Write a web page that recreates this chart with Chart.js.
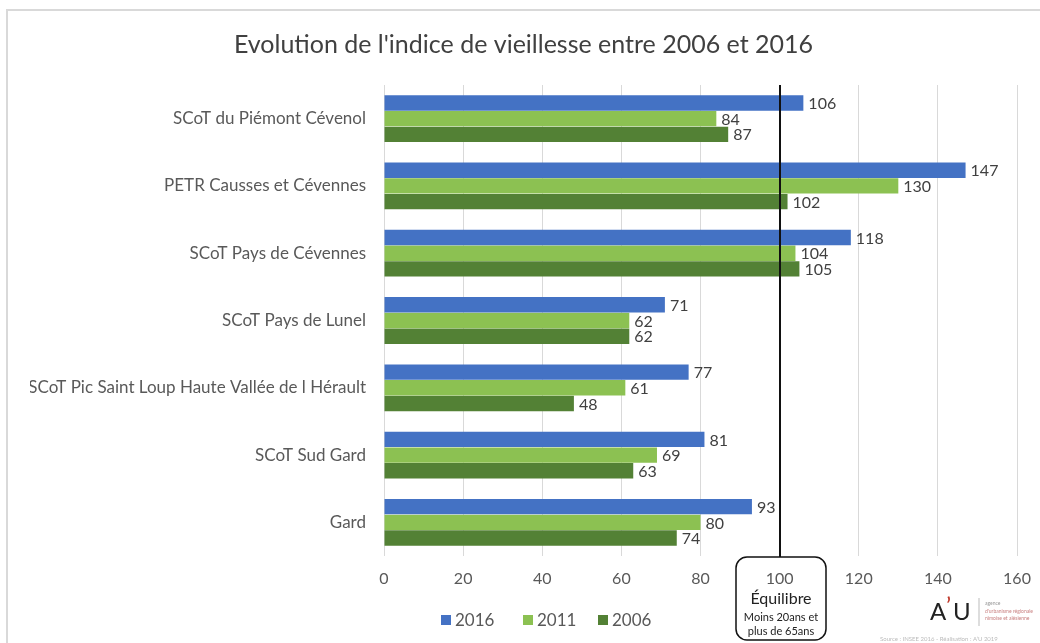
<!DOCTYPE html>
<html>
<head>
<meta charset="utf-8">
<script src="https://cdn.jsdelivr.net/npm/chart.js@4/dist/chart.umd.min.js"></script>
<style>
  html, body { margin: 0; padding: 0; background: #fff; }
  #wrap { width: 1040px; height: 643px; position: relative; }
</style>
</head>
<body>
<div id="wrap"><canvas id="c" width="1040" height="643"></canvas></div>
<script>
// data
const categories = [
  'SCoT du Piémont Cévenol',
  'PETR Causses et Cévennes',
  'SCoT Pays de Cévennes',
  'SCoT Pays de Lunel',
  'SCoT Pic Saint Loup Haute Vallée de l Hérault',
  'SCoT Sud Gard',
  'Gard'
];
const values2016 = [106, 147, 118, 71, 77, 81, 93];
const values2011 = [84, 130, 104, 62, 61, 69, 80];
const values2006 = [87, 102, 105, 62, 48, 63, 74];
const xTicks = [0, 20, 40, 60, 80, 100, 120, 140, 160];

const FONT = 'Lato, "Open Sans", sans-serif';
const colors = ['#4472C4', '#8CC152', '#538135'];

// draws value labels, the 100 line, the box, legend, logo, frame
const extras = {
  id: 'extras',
  beforeDraw(chart) {
    const c = chart.ctx;
    c.save();
    c.fillStyle = '#fff';
    c.fillRect(0, 0, chart.width, chart.height);
    c.strokeStyle = '#d9d9d9';
    c.lineWidth = 2;
    c.beginPath();
    c.moveTo(7, 643);
    c.lineTo(7, 10);
    c.lineTo(1040, 10);
    c.stroke();
    c.restore();
  },
  afterDatasetsDraw(chart) {
    const c = chart.ctx;
    const x = chart.scales.x;
    const area = chart.chartArea;
    c.save();
    // value labels
    c.font = '16px ' + FONT;
    c.fillStyle = '#404040';
    c.textBaseline = 'middle';
    c.textAlign = 'left';
    chart.data.datasets.forEach((ds, i) => {
      chart.getDatasetMeta(i).data.forEach((bar, j) => {
        c.fillText(String(ds.data[j]), bar.x + 5, bar.y + 1);
      });
    });
    // equilibrium line
    const x100 = Math.round(x.getPixelForValue(100));
    c.strokeStyle = '#111';
    c.lineWidth = 2;
    c.beginPath();
    c.moveTo(x100, area.top);
    c.lineTo(x100, 557);
    c.stroke();
    // rounded box
    const bx = x100 - 44, by = 557, bw = 90, bh = 83, r = 11;
    c.lineWidth = 1.5;
    c.beginPath();
    c.roundRect(bx, by, bw, bh, r);
    c.stroke();
    c.textAlign = 'center';
    c.fillStyle = '#222';
    c.font = '16px ' + FONT;
    c.fillText('Équilibre', x100 + 1, 599);
    c.font = '11px ' + FONT;
    c.fillText('Moins 20ans et', x100 + 1, 617);
    c.fillText('plus de 65ans', x100 + 1, 631);
    // legend
    const labels = ['2016', '2011', '2006'];
    const lx = [441, 523, 598];
    c.font = '17px ' + FONT;
    c.textAlign = 'left';
    labels.forEach((t, i) => {
      c.fillStyle = colors[i];
      c.fillRect(lx[i], 615, 10, 10);
      c.fillStyle = '#595959';
      c.fillText(t, lx[i] + 14, 621);
    });
    // logo
    c.fillStyle = '#222';
    c.font = '24px ' + FONT;
    c.fillText('A', 930, 612);
    c.fillStyle = '#c0392b';
    c.fillText('\u2019', 946, 606);
    c.fillStyle = '#222';
    c.fillText('U', 953, 612);
    c.strokeStyle = '#bbb';
    c.lineWidth = 1;
    c.beginPath();
    c.moveTo(979, 598);
    c.lineTo(979, 626);
    c.stroke();
    c.font = '5px ' + FONT;
    c.fillStyle = '#999';
    c.fillText('agence', 985, 603);
    c.fillStyle = '#c98080';
    c.fillText("d'urbanisme régionale", 985, 611);
    c.fillText('nîmoise et alésienne', 985, 618);
    c.fillStyle = '#bbb';
    c.font = '6px ' + FONT;
    c.fillText('Source : INSEE 2016 - Réalisation : A\u2019U 2019', 880, 639);
    c.restore();
  }
};

new Chart(document.getElementById('c'), {
  type: 'bar',
  data: {
    labels: categories,
    datasets: [
      { label: '2016', data: values2016, backgroundColor: colors[0] },
      { label: '2011', data: values2011, backgroundColor: colors[1] },
      { label: '2006', data: values2006, backgroundColor: colors[2] }
    ]
  },
  options: {
    indexAxis: 'y',
    responsive: false,
    animation: false,
    layout: { padding: { left: 30, right: 23, top: 30, bottom: 0 } },
    datasets: { bar: { categoryPercentage: 0.7, barPercentage: 0.98 } },
    plugins: {
      legend: { display: false },
      tooltip: { enabled: false },
      title: {
        display: true,
        text: "Evolution de l'indice de vieillesse entre 2006 et 2016",
        color: '#404040',
        font: { family: FONT, size: 25, weight: 'normal' },
        padding: { top: 0, bottom: 25 }
      }
    },
    scales: {
      x: {
        min: 0,
        max: 160,
        afterBuildTicks(s) { s.ticks = xTicks.map(v => ({ value: v })); },
        grid: { color: '#d9d9d9', drawTicks: false },
        border: { display: false },
        ticks: {
          color: '#595959',
          font: { family: FONT, size: 16 },
          padding: 13
        },
        afterFit(s) { s.height = 87; s.paddingRight = 0; s.paddingLeft = 0; }
      },
      y: {
        grid: { display: false, drawTicks: false },
        border: { display: false },
        ticks: {
          color: '#595959',
          font: { family: FONT, size: 17 },
          padding: 18,
          autoSkip: false
        },
        afterFit(s) { s.width = 354; }
      }
    }
  },
  plugins: [extras]
});
</script>
</body>
</html>
